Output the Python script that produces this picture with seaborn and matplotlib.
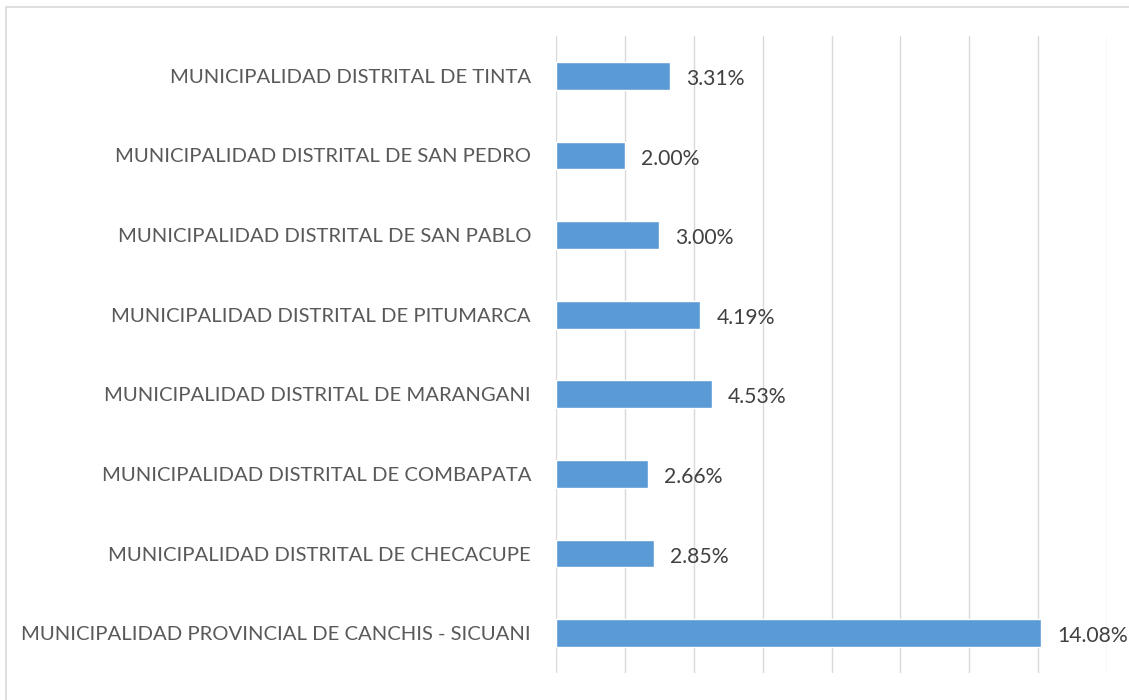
import matplotlib
matplotlib.use('Agg')
import matplotlib.pyplot as plt
import seaborn as sns
import pandas as pd

# datos
entidades = ["MUNICIPALIDAD DISTRITAL DE TINTA",
             "MUNICIPALIDAD DISTRITAL DE SAN PEDRO",
             "MUNICIPALIDAD DISTRITAL DE SAN PABLO",
             "MUNICIPALIDAD DISTRITAL DE PITUMARCA",
             "MUNICIPALIDAD DISTRITAL DE MARANGANI",
             "MUNICIPALIDAD DISTRITAL DE COMBAPATA",
             "MUNICIPALIDAD DISTRITAL DE CHECACUPE",
             "MUNICIPALIDAD PROVINCIAL DE CANCHIS - SICUANI"]
porcentajes = [3.31, 2.00, 3.00, 4.19, 4.53, 2.66, 2.85, 14.08]
etiquetas = ["3.31%", "2.00%", "3.00%", "4.19%", "4.53%", "2.66%", "2.85%", "14.08%"]

df = pd.DataFrame({"entidad": entidades, "porcentaje": porcentajes})

sns.set_style("white")
plt.rcParams['font.family'] = ['Lato', 'DejaVu Sans']

fig = plt.figure(figsize=(11.29, 7.0), dpi=100)
ax = fig.add_axes([556 / 1129, 1 - 673 / 700, (1107 - 556) / 1129, (673 - 36) / 700])

sns.barplot(data=df, x="porcentaje", y="entidad", color="#5B9BD5", saturation=1,
            width=0.35, ax=ax)

ax.set_xlim(0, 16)
ax.set_xticks(range(0, 17, 2))
ax.xaxis.grid(True, color="#D9D9D9", linewidth=1)
ax.set_axisbelow(True)
ax.tick_params(axis="x", length=0, labelbottom=False)
ax.tick_params(axis="y", length=0, pad=18, labelsize=14.6, labelcolor="#595959")
ax.set_xlabel("")
ax.set_ylabel("")
for s in ax.spines.values():
    s.set_visible(False)

for i, (v, t) in enumerate(zip(porcentajes, etiquetas)):
    ax.text(v + 0.47, i + 0.04, t, va="center", ha="left", fontsize=15.2, color="#404040")

# marco exterior
fig.patches.append(plt.Rectangle((6 / 1129, -0.1), 1.2, 1 - 7 / 700 + 0.1, transform=fig.transFigure,
                                 fill=False, edgecolor="#D9D9D9", linewidth=1.2))

fig.savefig("out.png", dpi=100)
